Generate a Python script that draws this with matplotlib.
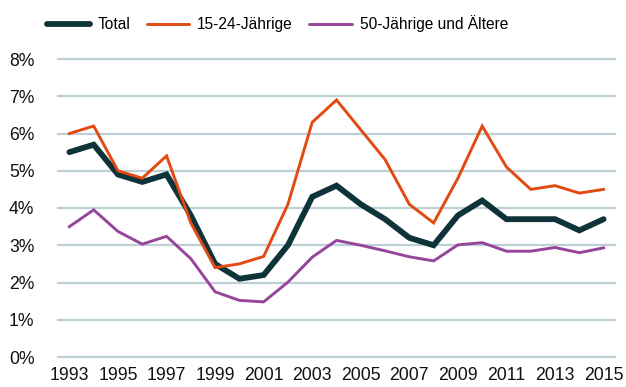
import matplotlib
matplotlib.use("Agg")
import matplotlib.pyplot as plt
from matplotlib.ticker import FuncFormatter

plt.rcParams['font.family'] = ['Liberation Sans', 'DejaVu Sans']

years = list(range(1993, 2016))
total = [5.5, 5.7, 4.9, 4.7, 4.9, 3.8, 2.5, 2.1, 2.2, 3.0, 4.3, 4.6,
         4.1, 3.7, 3.2, 3.0, 3.8, 4.2, 3.7, 3.7, 3.7, 3.4, 3.7]
youth = [6.0, 6.2, 5.0, 4.8, 5.4, 3.6, 2.4, 2.5, 2.7, 4.1, 6.3, 6.9,
         6.1, 5.3, 4.1, 3.6, 4.8, 6.2, 5.1, 4.5, 4.6, 4.4, 4.5]
older = [3.5, 3.95, 3.37, 3.03, 3.24, 2.64, 1.75, 1.52, 1.48, 2.01, 2.68, 3.13,
         3.0, 2.85, 2.69, 2.58, 3.01, 3.07, 2.84, 2.84, 2.94, 2.8, 2.93]
series_labels = ["Total", "15-24-Jährige", "50-Jährige und Ältere"]
x_ticks = list(range(1993, 2016, 2))
y_ticks = list(range(0, 9))

fig = plt.figure(figsize=(6.26, 3.87), dpi=100)
ax = fig.add_axes([58 / 626, 1 - 357 / 387, (615 - 58) / 626, (357 - 59) / 387])

ax.plot(years, total, color="#0e3439", lw=4.2, solid_capstyle="round",
        solid_joinstyle="miter", label=series_labels[0], zorder=3)
ax.plot(years, youth, color="#e24a12", lw=2.1, solid_joinstyle="miter",
        label=series_labels[1], zorder=4)
ax.plot(years, older, color="#96459b", lw=2.1, solid_joinstyle="miter",
        label=series_labels[2], zorder=2)

ax.set_xlim(1992.53, 2015.47)
ax.set_ylim(0, 8)
ax.set_yticks(y_ticks)
ax.set_xticks(x_ticks)
ax.yaxis.set_major_formatter(FuncFormatter(lambda v, p: f"{int(v)}%"))
ax.grid(axis="y", color="#bdd0d8", lw=1.6, zorder=0)
ax.set_axisbelow(True)
for s in ax.spines.values():
    s.set_visible(False)
ax.tick_params(axis="both", length=0, labelsize=12.7, colors="#111111")
ax.tick_params(axis="y", pad=17)
ax.tick_params(axis="x", pad=7)
for gl in ax.get_ygridlines():
    gl.set_clip_on(False)

leg = fig.legend(loc="center", bbox_to_anchor=(277.5 / 626, 1 - 24 / 387),
                 ncol=3, frameon=False, fontsize=11.2, handlelength=2.75,
                 handletextpad=0.5, columnspacing=1.05)
for h in leg.get_lines():
    h.set_solid_capstyle("round")

fig.savefig("out.png", dpi=100)
